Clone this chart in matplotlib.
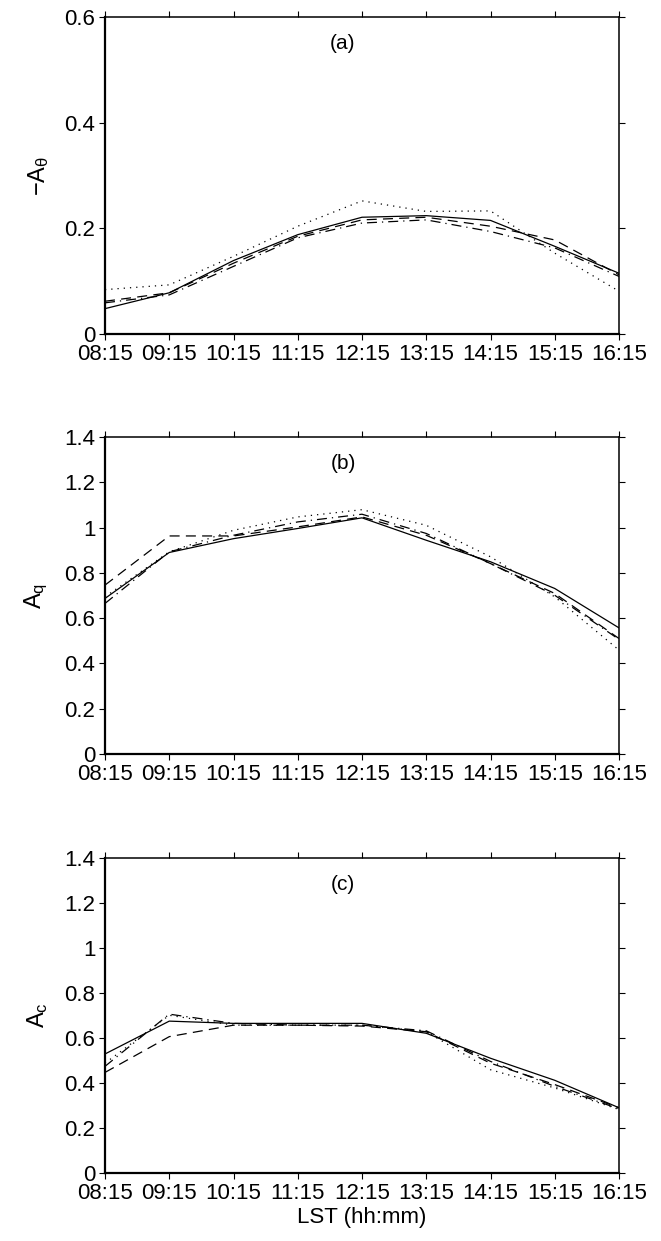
import matplotlib
matplotlib.use("Agg")
import matplotlib.pyplot as plt
from matplotlib.ticker import FormatStrFormatter, FuncFormatter

plt.rcParams['font.family'] = ['Liberation Sans', 'DejaVu Sans']
plt.rcParams['mathtext.fontset'] = 'custom'
plt.rcParams['mathtext.rm'] = 'Liberation Sans'
plt.rcParams['mathtext.it'] = 'Liberation Sans'
plt.rcParams['font.size'] = 16

times = ["08:15", "09:15", "10:15", "11:15", "12:15", "13:15", "14:15", "15:15", "16:15"]

# panel (a): -A_theta
a_solid = [0.048, 0.078, 0.139, 0.188, 0.221, 0.224, 0.215, 0.166, 0.115]
a_dash = [0.062, 0.078, 0.134, 0.185, 0.216, 0.221, 0.204, 0.178, 0.112]
a_dashdot = [0.059, 0.074, 0.128, 0.182, 0.210, 0.216, 0.194, 0.163, 0.109]
a_dot = [0.084, 0.093, 0.147, 0.204, 0.252, 0.232, 0.233, 0.153, 0.081]

# panel (b): A_q
b_solid = [0.687, 0.890, 0.951, 0.996, 1.043, 0.944, 0.849, 0.731, 0.557]
b_dash = [0.746, 0.963, 0.963, 1.003, 1.047, 0.966, 0.841, 0.709, 0.510]
b_dashdot = [0.665, 0.893, 0.966, 1.025, 1.059, 0.974, 0.841, 0.701, 0.506]
b_dot = [0.694, 0.893, 0.988, 1.047, 1.079, 1.010, 0.871, 0.694, 0.459]

# panel (c): A_c
c_solid = [0.529, 0.675, 0.665, 0.665, 0.665, 0.621, 0.510, 0.412, 0.290]
c_dash = [0.447, 0.606, 0.657, 0.657, 0.653, 0.628, 0.488, 0.393, 0.290]
c_dashdot = [0.474, 0.706, 0.665, 0.657, 0.657, 0.632, 0.496, 0.385, 0.285]
c_dot = [0.488, 0.701, 0.657, 0.657, 0.657, 0.628, 0.459, 0.378, 0.282]

panels = [
    ("(a)", r"$\mathrm{-A_{\theta}}$", 0.6, [a_solid, a_dash, a_dashdot, a_dot]),
    ("(b)", r"$\mathrm{A_{q}}$", 1.4, [b_solid, b_dash, b_dashdot, b_dot]),
    ("(c)", r"$\mathrm{A_{c}}$", 1.4, [c_solid, c_dash, c_dashdot, c_dot]),
]

styles = ['-', (0, (8, 5)), (0, (8, 4, 1, 4)), (0, (1, 4))]

W, H = 661, 1241
fig = plt.figure(figsize=(W / 100, H / 100), dpi=100)

left, right = 105, 619
tops = [17, 437, 858]
bottoms = [334, 754, 1173]

x = list(range(len(times)))

for i, (tag, ylab, ymax, series) in enumerate(panels):
    ax = fig.add_axes([left / W, 1 - bottoms[i] / H, (right - left) / W, (bottoms[i] - tops[i]) / H])
    for ys, ls in zip(series, styles):
        ax.plot(x, ys, color='black', linestyle=ls, linewidth=0.9)
    ax.set_xlim(0, len(times) - 1)
    ax.set_ylim(0, ymax)
    ax.set_xticks(x)
    ax.set_xticklabels(times)
    ax.set_yticks([k * 0.2 for k in range(int(round(ymax / 0.2)) + 1)])
    ax.yaxis.set_major_formatter(FuncFormatter(lambda v, p: "%g" % round(v, 2)))
    ax.tick_params(direction='out', length=4, width=0.8, top=True, right=True, pad=3)
    for s in ['left', 'bottom']:
        ax.spines[s].set_linewidth(1.6)
    for s in ['top', 'right']:
        ax.spines[s].set_linewidth(1.1)
    ax.text(0.463, 0.915, tag, transform=ax.transAxes, ha='center', va='center', fontsize=15)
    ax.set_ylabel(ylab, fontsize=17, labelpad=10)
    if i == 2:
        ax.set_xlabel("LST (hh:mm)", fontsize=16, labelpad=2)

fig.savefig("out.png", dpi=100)
